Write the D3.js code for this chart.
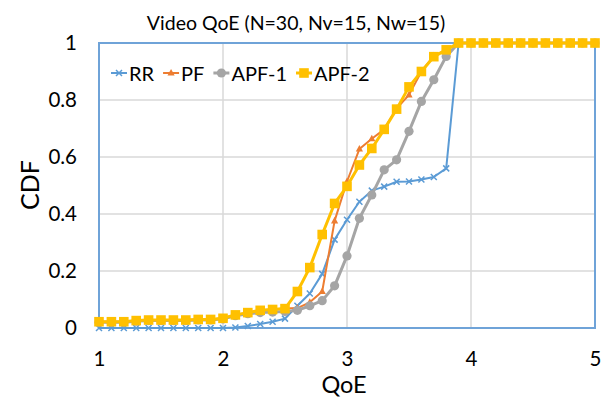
<!DOCTYPE html>
<html>
<head>
<meta charset="utf-8">
<script src="https://cdn.jsdelivr.net/npm/d3@7"></script>
<style>
  html, body { margin: 0; padding: 0; background: #fff; }
  svg { display: block; font-family: Lato, "Liberation Sans", sans-serif; }
</style>
</head>
<body>
<svg id="chart" width="606" height="398"></svg>
<script>
// QoE sample points (x axis) and CDF values per scheduler
const qoe = [1.0, 1.1, 1.2, 1.3, 1.4, 1.5, 1.6, 1.7, 1.8, 1.9, 2.0,
             2.1, 2.2, 2.3, 2.4, 2.5, 2.6, 2.7, 2.8, 2.9, 3.0,
             3.1, 3.2, 3.3, 3.4, 3.5, 3.6, 3.7, 3.8, 3.9, 4.0,
             4.1, 4.2, 4.3, 4.4, 4.5, 4.6, 4.7, 4.8, 4.9, 5.0];

const rr = [0, 0, 0, 0, 0, 0, 0, 0, 0, 0, 0,
            0.002, 0.007, 0.014, 0.022, 0.033, 0.078, 0.121, 0.19, 0.31, 0.38,
            0.443, 0.482, 0.496, 0.513, 0.514, 0.521, 0.53, 0.56, 1, 1,
            1, 1, 1, 1, 1, 1, 1, 1, 1, 1];

const pf = [0.022, 0.022, 0.022, 0.026, 0.028, 0.028, 0.028, 0.028, 0.03, 0.03, 0.034,
            0.046, 0.054, 0.062, 0.065, 0.068, 0.07, 0.09, 0.128, 0.376, 0.514,
            0.628, 0.664, 0.697, 0.77, 0.818, 0.9, 0.955, 0.976, 1, 1,
            1, 1, 1, 1, 1, 1, 1, 1, 1, 1];

const apf1 = [0.02, 0.02, 0.02, 0.024, 0.026, 0.026, 0.026, 0.026, 0.028, 0.028, 0.032,
              0.043, 0.05, 0.054, 0.056, 0.058, 0.062, 0.078, 0.096, 0.148, 0.253,
              0.385, 0.467, 0.555, 0.59, 0.69, 0.795, 0.871, 0.953, 1, 1,
              1, 1, 1, 1, 1, 1, 1, 1, 1, 1];

const apf2 = [0.022, 0.022, 0.022, 0.026, 0.028, 0.028, 0.028, 0.028, 0.03, 0.03, 0.034,
              0.046, 0.054, 0.062, 0.065, 0.068, 0.128, 0.212, 0.328, 0.437, 0.497,
              0.572, 0.63, 0.697, 0.768, 0.846, 0.9, 0.952, 0.976, 1, 1,
              1, 1, 1, 1, 1, 1, 1, 1, 1, 1];

const seriesNames = ["RR", "PF", "APF-1", "APF-2"];
const xTicks = [1, 2, 3, 4, 5];
const yTicks = [0, 0.2, 0.4, 0.6, 0.8, 1];
const xTickLabels = ["1", "2", "3", "4", "5"];
const yTickLabels = ["0", "0.2", "0.4", "0.6", "0.8", "1"];

const titleText = "Video QoE (N=30, Nv=15, Nw=15)";
const xTitle = "QoE";
const yTitle = "CDF";

const svg = d3.select("#chart");
const plot = { left: 99, right: 595, top: 43, bottom: 328 };

const x = d3.scaleLinear().domain([1, 5]).range([plot.left, plot.right]);
const y = d3.scaleLinear().domain([0, 1]).range([plot.bottom, plot.top]);

// gridlines
const grid = svg.append("g").attr("stroke", "#d9d9d9").attr("stroke-width", 1.5);
grid.selectAll("line.v").data(xTicks.slice(1, -1)).join("line")
  .attr("x1", d => x(d)).attr("x2", d => x(d))
  .attr("y1", plot.top).attr("y2", plot.bottom);
grid.selectAll("line.h").data(yTicks.slice(1, -1)).join("line")
  .attr("x1", plot.left).attr("x2", plot.right)
  .attr("y1", d => y(d)).attr("y2", d => y(d));

// plot area border
svg.append("rect")
  .attr("x", plot.left).attr("y", plot.top)
  .attr("width", plot.right - plot.left).attr("height", plot.bottom - plot.top)
  .attr("fill", "none").attr("stroke", "#6fa3d8").attr("stroke-width", 2);

// axes (labels only; lines hidden)
const xAxis = svg.append("g")
  .attr("transform", `translate(0,${plot.bottom})`)
  .call(d3.axisBottom(x).tickValues(xTicks).tickFormat((d, i) => xTickLabels[i]).tickSize(0).tickPadding(23));
const yAxis = svg.append("g")
  .attr("transform", `translate(${plot.left},0)`)
  .call(d3.axisLeft(y).tickValues(yTicks).tickFormat((d, i) => yTickLabels[i]).tickSize(0).tickPadding(22));
[xAxis, yAxis].forEach(a => {
  a.select(".domain").remove();
  a.selectAll("text").attr("font-size", 20.5).attr("fill", "#000").attr("font-family", "Lato, sans-serif");
});

// series styles
const styles = [
  { color: "#5b9bd5", width: 2,   marker: "x" },
  { color: "#ed7d31", width: 2,   marker: "triangle" },
  { color: "#a5a5a5", width: 3,   marker: "circle" },
  { color: "#ffc000", width: 3,   marker: "square" }
];
const values = [rr, pf, apf1, apf2];

function drawMarker(g, type, color) {
  if (type === "x") {
    g.append("path").attr("d", "M-3,-3L3,3M-3,3L3,-3")
      .attr("stroke", color).attr("stroke-width", 1.5).attr("fill", "none");
  } else if (type === "triangle") {
    g.append("path").attr("d", "M0,-4L3.6,2.6L-3.6,2.6Z").attr("fill", color);
  } else if (type === "circle") {
    g.append("circle").attr("r", 4.6).attr("fill", color);
  } else {
    g.append("rect").attr("x", -4.8).attr("y", -4.8).attr("width", 9.6).attr("height", 9.6).attr("fill", color);
  }
}

const line = d3.line().x(d => x(d[0])).y(d => y(d[1]));

values.forEach((vals, si) => {
  const st = styles[si];
  const pts = qoe.map((q, i) => [q, vals[i]]);
  const g = svg.append("g");
  g.append("path").datum(pts).attr("d", line)
    .attr("fill", "none").attr("stroke", st.color)
    .attr("stroke-width", st.width).attr("stroke-linejoin", "round");
  g.selectAll("g.m").data(pts).join("g")
    .attr("transform", d => `translate(${x(d[0])},${y(d[1])})`)
    .each(function () { drawMarker(d3.select(this), st.marker, st.color); });
});

// legend
const legend = svg.append("g").attr("transform", "translate(111,73)");
let lx = 0;
seriesNames.forEach((name, si) => {
  const st = styles[si];
  const item = legend.append("g").attr("transform", `translate(${lx},0)`);
  item.append("line").attr("x1", 0).attr("x2", 16).attr("y1", 0).attr("y2", 0)
    .attr("stroke", st.color).attr("stroke-width", st.width);
  drawMarker(item.append("g").attr("transform", "translate(8,0)"), st.marker, st.color);
  const t = item.append("text").attr("x", 18).attr("y", 7.5)
    .attr("font-size", 20).attr("fill", "#000").text(name);
  lx += 18 + t.node().getComputedTextLength() + 9;
});

// titles
svg.append("text").attr("x", 296).attr("y", 30).attr("text-anchor", "middle")
  .attr("font-size", 19.5).attr("fill", "#000").text(titleText);
svg.append("text").attr("x", 344).attr("y", 393).attr("text-anchor", "middle")
  .attr("font-size", 23.5).attr("fill", "#000").text(xTitle);
svg.append("text").attr("transform", "translate(39,185) rotate(-90)").attr("text-anchor", "middle")
  .attr("font-size", 25).attr("fill", "#000").text(yTitle);
</script>
</body>
</html>
